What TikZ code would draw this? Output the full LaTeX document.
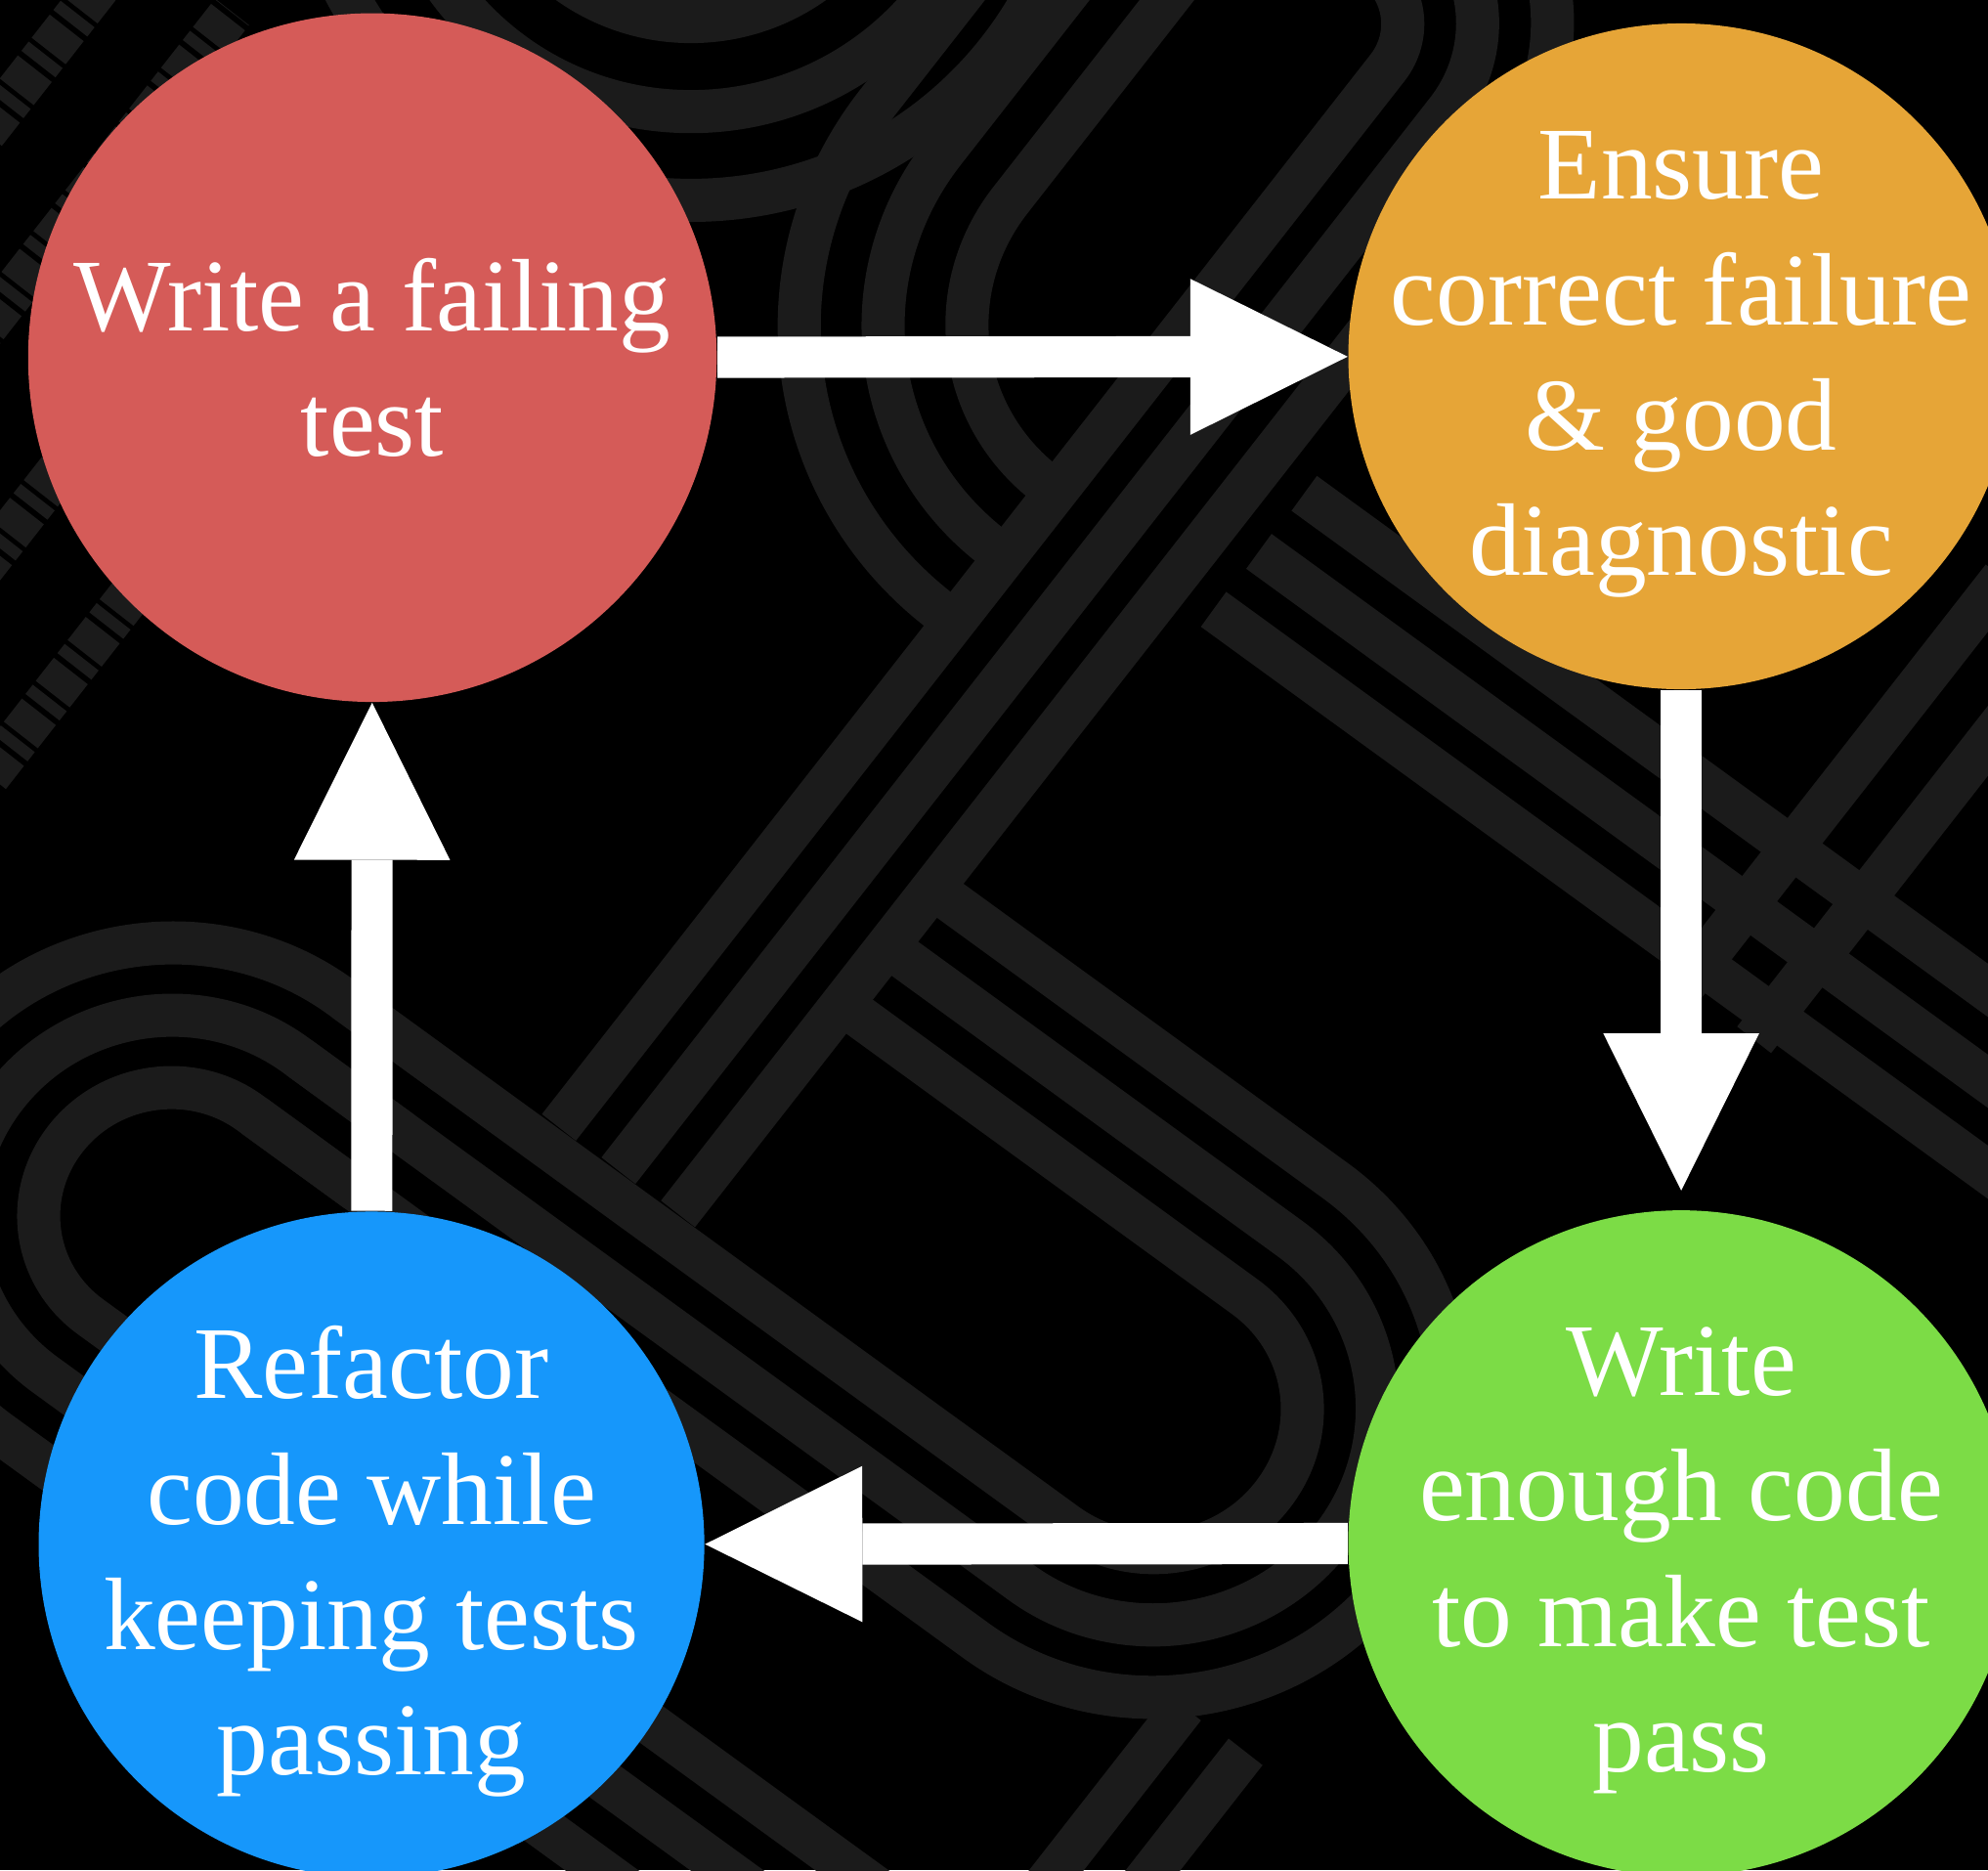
\documentclass[tikz,border=0pt]{standalone}
\usepackage{fontspec}
\setmainfont{Liberation Serif}
\usetikzlibrary{arrows.meta}

\definecolor{failred}{RGB}{213,91,88}
\definecolor{ensureorange}{RGB}{230,165,55}
\definecolor{passgreen}{RGB}{124,220,70}
\definecolor{refactorblue}{RGB}{22,151,251}
\definecolor{stripegray}{RGB}{27,27,27}

\tikzset{
  stage/.style={circle, inner sep=0pt, minimum size=6.81cm},
  stagetext/.style={text=white, align=center, font=\fontsize{30}{36.5}\selectfont},
  flow/.style={white, line width=0.4216cm, -{Triangle[length=1.609cm, width=1.596cm, line width=0pt]}},
  stripe/.style={stripegray, line width=0.441cm},
}

\begin{document}
\begin{tikzpicture}[x=0.012972cm, y=-0.012972cm]
\useasboundingbox (0,0) rectangle (1568,1475);
\clip (0,0) rectangle (1568,1475);
\fill[black] (0,0) rectangle (1568,1475);

% background pattern
\foreach \r in {167,238,308}
  \draw[stripe] (545,-150) circle[radius=\r];
\begin{scope}[x={(0.010494cm,-0.007628cm)}, y={(0.007991cm,0.010222cm)}]
  \foreach \r in {165,230,295}
    \draw[stripe, rounded corners=\r*0.012972cm] (890-\r,900) -- (890-\r,341-\r) -- (895,341-\r);
  \foreach \u/\r in {895/58, 953/116, 1011/174}
    \draw[stripe, rounded corners=\r*0.012972cm] (\u,-460) -- (\u,600+\r) -- (500,600+\r);
  \foreach \r in {114,172,230}
    \draw[stripe, rounded corners=\r*0.012972cm] (1011,-364+\r) -- (1403+\r,-364+\r) -- (1403+\r,-364-\r) -- (700,-364-\r);
  \foreach \r in {102,160,218}
    \draw[stripe, rounded corners=\r*0.012972cm] (800,-696+\r) -- (696-\r,-696+\r) -- (696-\r,-696-\r) -- (1800,-696-\r);
  \foreach \v in {174,232,290}
    \draw[stripe] (1050,\v) -- (2100,\v);
  \foreach \u in {1525,1595}
    \draw[stripe] (\u,150) -- (\u,560);
  \foreach \u in {1565,1625}
    \draw[stripe] (\u,-760) -- (\u,-540);
  \foreach \u in {55,150,265,370}
    \draw[stripe, dash pattern=on 0.3cm off 0.06cm on 0.12cm off 0.05cm] (\u,-500) -- (\u,100);
\end{scope}

% cycle
\node[stage, fill=failred, minimum size=7.044cm] (fail) at (293.75,282) {};
\node[stage, fill=ensureorange] (ensure) at (1326,281) {};
\node[stage, fill=passgreen] (pass) at (1326,1217) {};
\node[stage, fill=refactorblue] (refactor) at (293,1218) {};

\node[stagetext] (fail-text) at (fail) {Write a failing\\test};
\node[stagetext, yshift=-2.5pt] (ensure-text) at (ensure) {Ensure\\correct failure\\\& good\\diagnostic};
\node[stagetext, yshift=-5pt] (pass-text) at (pass) {Write\\enough code\\to make test\\pass};
\node[stagetext, yshift=-5pt] (refactor-text) at (refactor) {Refactor\\code while\\keeping tests\\passing};

\draw[flow] (fail) -- (ensure);
\draw[flow, shorten >=0.195cm] (ensure) -- (pass);
\draw[flow] (pass) -- (refactor);
\draw[flow] (refactor) -- (fail);
\end{tikzpicture}
\end{document}
